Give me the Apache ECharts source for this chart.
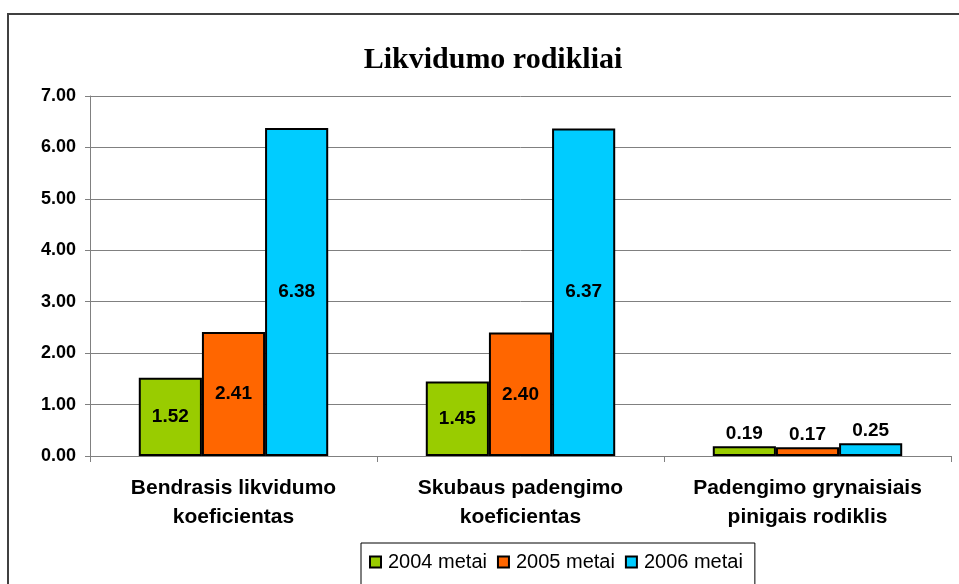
<!DOCTYPE html>
<html>
<head>
<meta charset="utf-8">
<script src="https://cdn.jsdelivr.net/npm/echarts@6/dist/echarts.min.js"></script>
<style>
  html, body { margin: 0; padding: 0; background: #fff; }
  #chart { width: 959px; height: 584px; }
</style>
</head>
<body>
<div id="chart"></div>
<script>
const categories = ['Bendrasis likvidumo\nkoeficientas', 'Skubaus padengimo\nkoeficientas', 'Padengimo grynaisiais\npinigais rodiklis'];
const seriesNames = ['2004 metai', '2005 metai', '2006 metai'];
const values2004 = [1.52, 1.45, 0.19];
const values2005 = [2.41, 2.40, 0.17];
const values2006 = [6.38, 6.37, 0.25];
const colors = ['#99cc00', '#ff6600', '#00ccff'];

const chart = echarts.init(document.getElementById('chart'));

// etiketė viduryje, jei stulpelis aukštas, kitaip virš jo
function makeData(vals) {
    return vals.map(v => ({
        value: v,
        label: { position: v > 1 ? 'inside' : 'top' }
    }));
}

const allValues = [values2004, values2005, values2006];

const option = {
    animation: false,
    title: {
        text: 'Likvidumo rodikliai',
        left: 488,
        top: 40,
        textAlign: 'center',
        textStyle: {
            fontFamily: '"Liberation Serif", "Times New Roman", serif',
            fontWeight: 'bold',
            fontSize: 30,
            color: '#000'
        }
    },
    graphic: [{
        type: 'rect',
        shape: { x: 8, y: 14, width: 980, height: 600 },
        style: { fill: 'none', stroke: '#404040', lineWidth: 2 },
        silent: true
    }],
    legend: {
        data: seriesNames,
        left: 361,
        top: 543,
        padding: [9, 12, 30, 8],
        itemGap: 10,
        itemWidth: 11,
        itemHeight: 11,
        icon: 'rect',
        borderColor: '#000',
        borderWidth: 1,
        textStyle: {
            fontFamily: '"Liberation Sans", Arial, sans-serif',
            fontSize: 20,
            color: '#000',
            padding: [0, 0, 0, 2]
        }
    },
    grid: {
        left: 90,
        right: 8,
        top: 96,
        bottom: 128
    },
    xAxis: {
        type: 'category',
        data: categories,
        axisLine: { lineStyle: { color: '#808080', width: 1 } },
        axisTick: { show: true, length: 6, lineStyle: { color: '#808080' } },
        axisLabel: {
            interval: 0,
            margin: 18,
            fontFamily: '"Liberation Sans", Arial, sans-serif',
            fontWeight: 'bold',
            fontSize: 21,
            lineHeight: 29,
            color: '#000'
        }
    },
    yAxis: {
        type: 'value',
        min: 0,
        max: 7,
        interval: 1,
        axisLine: { show: true, lineStyle: { color: '#808080' } },
        axisTick: { show: true, length: 5, lineStyle: { color: '#808080' } },
        splitLine: { lineStyle: { color: '#808080', width: 1 } },
        axisLabel: {
            formatter: v => v.toFixed(2),
            margin: 14,
            fontFamily: '"Liberation Sans", Arial, sans-serif',
            fontWeight: 'bold',
            fontSize: 18,
            color: '#000'
        }
    },
    series: seriesNames.map((name, i) => ({
        name: name,
        type: 'bar',
        data: makeData(allValues[i]),
        barGap: '0%',
        barCategoryGap: '34%',
        itemStyle: {
            color: colors[i],
            borderColor: '#000',
            borderWidth: 2
        },
        label: {
            show: true,
            formatter: p => p.value.toFixed(2),
            fontFamily: '"Liberation Sans", Arial, sans-serif',
            fontWeight: 'bold',
            fontSize: 19,
            color: '#000',
            distance: 3
        }
    }))
};

chart.setOption(option);
</script>
</body>
</html>
